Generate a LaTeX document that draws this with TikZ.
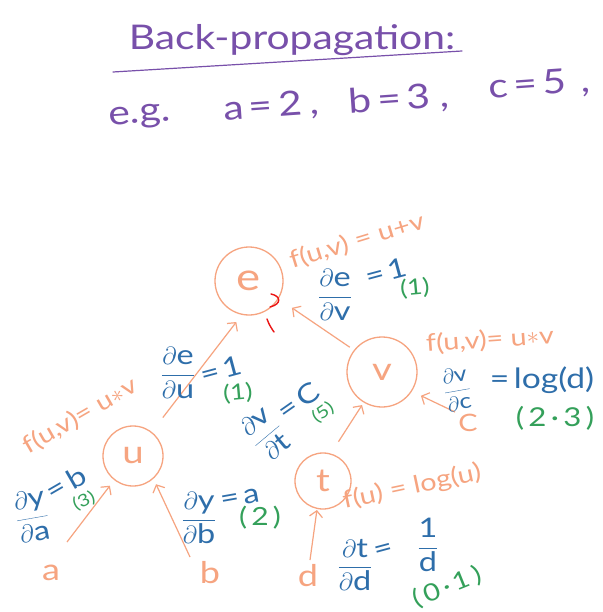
\documentclass[tikz,border=0pt]{standalone}
\usepackage{fontspec}
\setmainfont{Lato}[FakeStretch=1.2]
\usetikzlibrary{arrows.meta}
\definecolor{orn}{RGB}{246,164,128}
\definecolor{blu}{RGB}{46,110,170}
\definecolor{grn}{RGB}{52,160,90}
\definecolor{pur}{RGB}{120,80,170}
\definecolor{redm}{RGB}{235,20,20}
\newcommand\pd{$\partial$}
\newcommand\fr[2]{$\displaystyle\frac{\mbox{#1}}{\mbox{#2}}$}
\newcommand\fs[1]{\fontsize{#1}{#1}\selectfont}
\begin{document}
\begin{tikzpicture}[x=1pt,y=-1pt,
  circ/.style={draw=orn, line width=1.3pt, circle, inner sep=0pt, text=orn, font=\fs{32}},
  olab/.style={text=orn, inner sep=0pt, font=\fs{24}},
  leaf/.style={text=orn, inner sep=0pt, font=\fs{30}},
  blab/.style={text=blu, inner sep=0pt, font=\fs{27}},
  glab/.style={text=grn, inner sep=0pt, font=\fs{22}},
  plab/.style={text=pur, inner sep=0pt},
  arr/.style={draw=orn, line width=1.2pt, -{Straight Barb[length=6pt,width=13pt]}},
  redmark/.style={draw=redm, line width=1.4pt, line cap=round},
]
\useasboundingbox[fill=white] (0,0) rectangle (602,612);

% title
\node[plab, font=\fs{34}, anchor=base] (title) at (292,50) {Back-propagation:};
\draw[pur, line width=1.2pt, line cap=round] (113,72) -- (462,51);
\node[plab, font=\fs{34}, anchor=base, rotate=4] (eg) at (140,123) {e.g.};
\node[plab, font=\fs{34}, anchor=base, rotate=4] (ea) at (272,117) {a\,=\,2\hspace{8pt},};
\node[plab, font=\fs{34}, anchor=base, rotate=4] (eb) at (400,110) {b\,=\,3\hspace{10pt},};
\node[plab, font=\fs{34}, anchor=base, rotate=4] (ec) at (540,95) {c\,=\,5\hspace{14pt},};

% circles
\node[circ, minimum size=68pt, font=\fs{38}] (e) at (249,281) {e};
\node[circ, minimum size=70pt] (v) at (382,372) {v};
\node[circ, minimum size=60pt] (u) at (133,456) {u};
\node[circ, minimum size=56pt] (t) at (323,481) {t};

% leaves
\node[leaf] (a) at (51,573) {a};
\node[leaf] (b) at (210,573) {b};
\node[leaf] (d) at (308,576) {d};
\node[leaf, font=\fs{24}] (c) at (468,423) {C};
\coordinate (atail) at (67,542);
\coordinate (btail) at (190,557);
\coordinate (ctail) at (455,412);
\coordinate (dtail) at (310,560);

% arrows
\draw[arr, shorten >=7pt] (atail) -- (u.-128);
\draw[arr, shorten >=6pt] (btail) -- (u.-48);
\draw[arr, shorten <=18pt, shorten >=9pt] (u.52) -- (e.-102);
\draw[arr, shorten <=5pt, shorten >=16pt] (v.142) -- (e.-31);
\draw[arr, shorten <=14pt, shorten >=3pt] (t.74) -- (v.-121);
\draw[arr, shorten >=10pt] (ctail) -- (v.-33);
\draw[arr, shorten >=1pt] (dtail) -- (t.-102);

% function labels
\node[olab, rotate=17] (fe) at (357,241) {f(u,v) = u+v};
\node[olab, rotate=30] (fu) at (80,416) {f(u,v)= u$*$v};
\node[olab, rotate=4] (fv) at (490,340) {f(u,v)= u$*$v};
\node[olab, rotate=12] (ft) at (412,487) {f(u) = log(u)};

% derivatives
\node[blab] (dedv) at (335,295) {\fr{\pd e}{\pd v}};
\node[blab, rotate=15] (dedv1) at (386,272) {=\,1};
\node[glab, rotate=5] (dedvn) at (415,288) {(1)};

\node[blab] (dedu) at (178,373) {\fr{\pd e}{\pd u}};
\node[blab, rotate=15] (dedu1) at (221,370) {=\,1};
\node[glab, rotate=5] (dedun) at (238,393) {(1)};

\node[blab, rotate=40] (dvdt) at (266,434) {\fr{\pd v}{\pd t}};
\node[blab, rotate=35] (dvdt1) at (298,401) {=\,C};
\node[glab, rotate=35, font=\fs{17}] (dvdtn) at (323,413) {(5)};

\node[blab, rotate=10, font=\fs{21}] (dvdc) at (457,389) {\fr{\pd v}{\pd c}};
\node[blab, font=\fs{28}] (dvdc1) at (542,380) {=\,log(d)};
\node[glab, font=\fs{26}] (dvdcn) at (555,418) {(\,2\,·\,3\,)};

\node[blab, rotate=10] (dyda) at (32,516) {\fr{\pd y}{\pd a}};
\node[blab, rotate=30] (dyda1) at (66,483) {=\,b};
\node[glab, rotate=25, font=\fs{17}] (dydan) at (84,501) {(3)};

\node[blab] (dydb) at (199,518) {\fr{\pd y}{\pd b}};
\node[blab, rotate=10] (dydb1) at (240,498) {=\,a};
\node[glab, font=\fs{25}] (dydbn) at (260,518) {(\,2\,)};

\node[blab] (dtdd) at (355,565) {\fr{\pd t}{\pd d}};
\node[blab, rotate=15] (dtdd1) at (384,551) {=};
\node[blab] (dtddr) at (428,545) {\fr{1}{d}};
\node[glab, rotate=22, font=\fs{24}] (dtddn) at (447,587) {(\,0\,·\,1\,)};

% red marks
\draw[redmark] (271,294) .. controls (281,296) and (282,304) .. (270,307);
\draw[redmark] (267,319) .. controls (269,325) and (272,329) .. (274,332);
\end{tikzpicture}
\end{document}
